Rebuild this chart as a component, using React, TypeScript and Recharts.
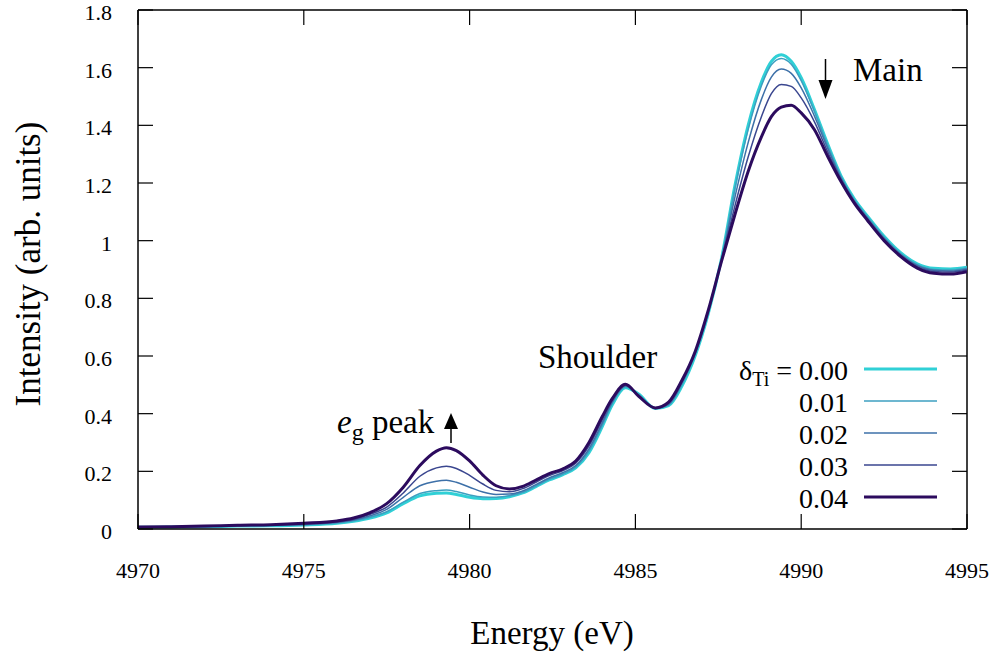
import React from "react";
import { LineChart, Line, XAxis, YAxis, ReferenceLine } from "recharts";

const energy = [
  4970, 4971, 4972, 4973, 4974, 4975, 4976, 4976.5, 4977, 4977.5, 4978, 4978.5, 4979, 4979.3, 4979.6,
  4980, 4980.4, 4980.8, 4981.2, 4981.6, 4982, 4982.4, 4982.8, 4983.2, 4983.6, 4984, 4984.3, 4984.7,
  4985.1, 4985.6, 4986, 4986.4, 4986.8, 4987.2, 4987.6, 4988, 4988.4, 4988.8, 4989.1, 4989.4, 4989.7,
  4990, 4990.4, 4990.8, 4991.2, 4991.6, 4992, 4992.5, 4993, 4993.5, 4994, 4994.5, 4995,
];

const d000 = [
  0.006, 0.007, 0.008, 0.01, 0.011, 0.014, 0.02, 0.027, 0.038, 0.056, 0.088, 0.115, 0.124, 0.125, 0.12,
  0.11, 0.105, 0.106, 0.112, 0.125, 0.147, 0.17, 0.188, 0.212, 0.265, 0.355, 0.43, 0.49,
  0.468, 0.418, 0.428, 0.495, 0.6, 0.748, 0.94, 1.19, 1.4, 1.55, 1.622, 1.645, 1.622,
  1.565, 1.455, 1.335, 1.225, 1.145, 1.085, 1.015, 0.958, 0.92, 0.904, 0.902, 0.908,
];
const d001 = [
  0.006, 0.007, 0.008, 0.01, 0.012, 0.015, 0.021, 0.029, 0.041, 0.06, 0.093, 0.123, 0.133, 0.135, 0.13,
  0.118, 0.111, 0.11, 0.115, 0.127, 0.149, 0.172, 0.19, 0.215, 0.27, 0.36, 0.435, 0.493,
  0.466, 0.418, 0.43, 0.5, 0.604, 0.75, 0.938, 1.18, 1.385, 1.537, 1.61, 1.632, 1.612,
  1.555, 1.448, 1.33, 1.222, 1.142, 1.082, 1.012, 0.955, 0.917, 0.9, 0.898, 0.905,
];
const d002 = [
  0.006, 0.007, 0.009, 0.011, 0.013, 0.016, 0.023, 0.031, 0.046, 0.068, 0.11, 0.15, 0.166, 0.169, 0.162,
  0.145, 0.128, 0.12, 0.121, 0.132, 0.154, 0.177, 0.195, 0.22, 0.278, 0.368, 0.44, 0.496,
  0.465, 0.418, 0.432, 0.505, 0.607, 0.752, 0.935, 1.15, 1.34, 1.49, 1.567, 1.595, 1.58,
  1.53, 1.432, 1.32, 1.217, 1.138, 1.078, 1.008, 0.952, 0.914, 0.897, 0.895, 0.902,
];
const d003 = [
  0.007, 0.008, 0.009, 0.012, 0.014, 0.018, 0.025, 0.034, 0.051, 0.076, 0.125, 0.183, 0.212, 0.218, 0.21,
  0.186, 0.156, 0.134, 0.129, 0.14, 0.162, 0.185, 0.202, 0.228, 0.288, 0.378, 0.445, 0.499,
  0.462, 0.419, 0.436, 0.51, 0.611, 0.756, 0.933, 1.12, 1.29, 1.43, 1.51, 1.542, 1.535,
  1.495, 1.412, 1.308, 1.212, 1.135, 1.075, 1.005, 0.948, 0.91, 0.893, 0.891, 0.898,
];
const d004 = [
  0.007, 0.008, 0.01, 0.013, 0.015, 0.02, 0.028, 0.038, 0.057, 0.088, 0.145, 0.22, 0.27, 0.282, 0.272,
  0.236, 0.187, 0.15, 0.139, 0.148, 0.17, 0.192, 0.208, 0.236, 0.3, 0.39, 0.452, 0.502,
  0.46, 0.42, 0.44, 0.515, 0.615, 0.76, 0.93, 1.09, 1.24, 1.36, 1.43, 1.463, 1.47,
  1.443, 1.385, 1.292, 1.205, 1.13, 1.07, 1.0, 0.945, 0.905, 0.887, 0.884, 0.892,
];

const seriesKeys = ["d000", "d001", "d002", "d003", "d004"];
const seriesLabels = ["0.00", "0.01", "0.02", "0.03", "0.04"];
const seriesValues = [d000, d001, d002, d003, d004];
const seriesColors = ["#30d0d6", "#3c9fc0", "#3d70a8", "#3a468f", "#2c0b5e"];
const seriesWidths = [3, 1.5, 1.5, 1.5, 3];

const xTicks = [4970, 4975, 4980, 4985, 4990, 4995];
const yTicks = [0, 0.2, 0.4, 0.6, 0.8, 1, 1.2, 1.4, 1.6, 1.8];

const data = energy.map((e, i) => {
  const row: Record<string, number> = { energy: e };
  seriesKeys.forEach((k, j) => {
    row[k] = seriesValues[j][i];
  });
  return row;
});

const FONT = "Liberation Serif, Tinos, DejaVu Serif, Times New Roman, Times, serif";
const TICK_LEN = 15;
// plot box edges (chart margins below)
const PLOT_TOP = 10;
const PLOT_RIGHT = 967;

const BottomTick = (props: any) => {
  const { x, y, payload } = props;
  return (
    <g>
      <line x1={x} x2={x} y1={y} y2={y - TICK_LEN} stroke="#000" strokeWidth={1.2} />
      <line x1={x} x2={x} y1={PLOT_TOP} y2={PLOT_TOP + TICK_LEN} stroke="#000" strokeWidth={1.2} />
      <text x={x} y={y + 49} textAnchor="middle" fontSize={22} style={{ fontFamily: FONT }} fill="#000">
        {payload.value}
      </text>
    </g>
  );
};

const LeftTick = (props: any) => {
  const { x, y, payload } = props;
  return (
    <g>
      <line x1={x} x2={x + TICK_LEN} y1={y} y2={y} stroke="#000" strokeWidth={1.2} />
      <line x1={PLOT_RIGHT} x2={PLOT_RIGHT - TICK_LEN} y1={y} y2={y} stroke="#000" strokeWidth={1.2} />
      <text x={x - 26} y={y + 10} textAnchor="end" fontSize={22} style={{ fontFamily: FONT }} fill="#000">
        {payload.value}
      </text>
    </g>
  );
};

export default function App() {
  const legendTop = 369;
  const legendStep = 32;
  return (
    <div style={{ position: "relative", width: 997, height: 655, background: "#fff", fontFamily: FONT }}>
      <style>{"body{margin:0}"}</style>
      <LineChart
        width={997}
        height={655}
        data={data}
        margin={{ top: PLOT_TOP, right: 997 - PLOT_RIGHT, bottom: 0, left: 0 }}
      >
        <XAxis
          dataKey="energy"
          type="number"
          domain={[4970, 4995]}
          ticks={xTicks}
          height={126}
          tickSize={0}
          tickMargin={0}
          tickLine={false}
          axisLine={{ stroke: "#000", strokeWidth: 1.5 }}
          tick={<BottomTick />}
          allowDataOverflow
        />
        <YAxis
          type="number"
          domain={[0, 1.8]}
          ticks={yTicks}
          width={138}
          tickSize={0}
          tickMargin={0}
          tickLine={false}
          axisLine={{ stroke: "#000", strokeWidth: 1.5 }}
          tick={<LeftTick />}
          allowDataOverflow
        />
        <ReferenceLine y={1.8} stroke="#000" strokeWidth={1.5} />
        <ReferenceLine x={4995} stroke="#000" strokeWidth={1.5} />
        {seriesKeys.map((k, j) => (
          <Line
            key={k}
            dataKey={k}
            type="monotone"
            stroke={seriesColors[j]}
            strokeWidth={seriesWidths[j]}
            dot={false}
            activeDot={false}
            isAnimationActive={false}
          />
        ))}
      </LineChart>
      <svg
        width={997}
        height={655}
        style={{ position: "absolute", left: 0, top: 0, pointerEvents: "none", fontFamily: FONT }}
      >
        <text x={552} y={644} textAnchor="middle" fontSize={33} fill="#000">
          Energy (eV)
        </text>
        <text
          x={0}
          y={0}
          transform="translate(40,264) rotate(-90)"
          textAnchor="middle"
          fontSize={35}
          fill="#000"
        >
          Intensity (arb. units)
        </text>
        <text x={853} y={81} fontSize={33} fill="#000">
          Main
        </text>
        <line x1={825.5} x2={825.5} y1={59} y2={82} stroke="#000" strokeWidth={1.5} />
        <polygon points="818.5,80 832.5,80 825.5,99" fill="#000" />
        <text x={538} y={368} fontSize={33} fill="#000">
          Shoulder
        </text>
        <text x={337} y={433} fontSize={33} fill="#000">
          <tspan fontStyle="italic">e</tspan>
          <tspan dy={7} fontSize={24}>g</tspan>
          <tspan dy={-7}> peak</tspan>
        </text>
        <line x1={451} x2={451} y1={443} y2={427} stroke="#000" strokeWidth={1.5} />
        <polygon points="444,429 458,429 451,413" fill="#000" />
        {seriesLabels.map((lab, j) => {
          const y = legendTop + j * legendStep;
          return (
            <g key={lab}>
              <text x={848} y={y + 11} textAnchor="end" fontSize={28} fill="#000">
                {j === 0 ? (
                  <>
                    <tspan>δ</tspan>
                    <tspan dy={6} fontSize={20}>Ti</tspan>
                    <tspan dy={-6}>{" = " + lab}</tspan>
                  </>
                ) : (
                  lab
                )}
              </text>
              <line x1={864} x2={937} y1={y} y2={y} stroke={seriesColors[j]} strokeWidth={seriesWidths[j]} />
            </g>
          );
        })}
      </svg>
    </div>
  );
}
